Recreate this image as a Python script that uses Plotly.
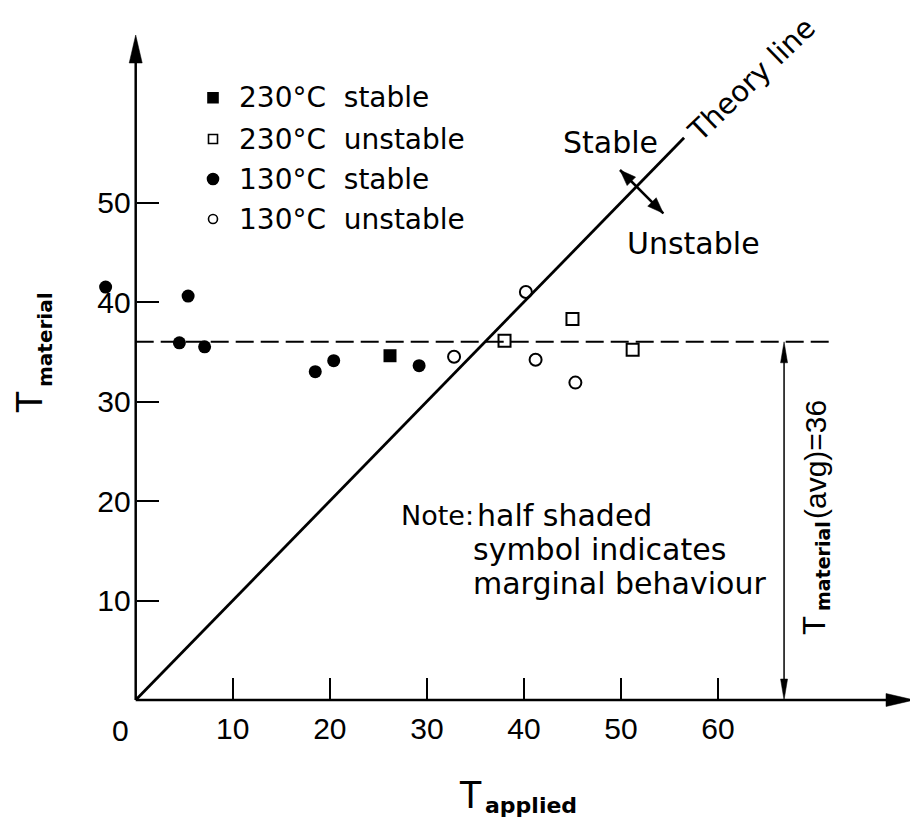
import plotly.graph_objects as go

# ---------------- data ----------------
stable_130_x = [-3.1, 4.5, 5.4, 7.1, 18.5, 20.4, 29.2]
stable_130_y = [41.5, 35.9, 40.6, 35.5, 33.0, 34.1, 33.6]
stable_230_x = [26.2]
stable_230_y = [34.6]
unstable_230_x = [38.0, 45.0, 51.2]
unstable_230_y = [36.1, 38.3, 35.2]
unstable_130_x = [32.8, 40.2, 41.2, 45.3]
unstable_130_y = [34.5, 41.0, 34.2, 31.9]
theory_x = [0, 56.5]
theory_y = [0, 56.5]
t_material_avg = 36
avg_line_x = [0, 72]
avg_marker_x = 66.8
x_tick_vals = [10, 20, 30, 40, 50, 60]
y_tick_vals = [10, 20, 30, 40, 50]
legend_labels = ["230°C\u00a0\u00a0stable", "230°C\u00a0\u00a0unstable",
                 "130°C\u00a0\u00a0stable", "130°C\u00a0\u00a0unstable"]

# ---------------- layout geometry ----------------
# The page body has an 8px margin, so the figure starts 8px in from the window corner.
WIN_W, WIN_H, BODY = 918, 826, 8
W, H = WIN_W - BODY, WIN_H - BODY
X0_PX, X_SCALE = 135.7, 9.706   # window pixel of x=0, pixels per unit
Y0_PX, Y_SCALE = 700.0, 9.95    # window pixel of y=0, pixels per unit


def dx(px):
    return (px - X0_PX) / X_SCALE


def dy(py):
    return (Y0_PX - py) / Y_SCALE


x_range = [dx(BODY), dx(WIN_W)]
y_range = [dy(WIN_H), dy(BODY)]

TXT = "DejaVu Sans"
SANS = "Liberation Sans, Arial, sans-serif"
BLACK = "black"

fig = go.Figure()

# theory line
fig.add_trace(go.Scatter(x=theory_x, y=theory_y, mode="lines",
                         line=dict(color=BLACK, width=2.8), showlegend=False,
                         hoverinfo="skip"))
# average dashed line
fig.add_trace(go.Scatter(x=avg_line_x, y=[t_material_avg] * len(avg_line_x), mode="lines",
                         line=dict(color=BLACK, width=2, dash="18px,7px"),
                         showlegend=False, hoverinfo="skip"))

# data markers
fig.add_trace(go.Scatter(x=stable_130_x, y=stable_130_y, mode="markers", cliponaxis=False,
                         marker=dict(symbol="circle", size=13, color=BLACK),
                         name="130°C stable", showlegend=False))
fig.add_trace(go.Scatter(x=stable_230_x, y=stable_230_y, mode="markers", cliponaxis=False,
                         marker=dict(symbol="square", size=13, color=BLACK),
                         name="230°C stable", showlegend=False))
fig.add_trace(go.Scatter(x=unstable_230_x, y=unstable_230_y, mode="markers", cliponaxis=False,
                         marker=dict(symbol="square-open", size=12, color=BLACK,
                                     line=dict(width=2, color=BLACK)),
                         name="230°C unstable", showlegend=False))
fig.add_trace(go.Scatter(x=unstable_130_x, y=unstable_130_y, mode="markers", cliponaxis=False,
                         marker=dict(symbol="circle-open", size=12, color=BLACK,
                                     line=dict(width=2, color=BLACK)),
                         name="130°C unstable", showlegend=False))

# hand-made legend (symbols + text)
leg_rows_px = [97.7, 139, 179, 219]
leg_symbols = ["square", "square-open", "circle", "circle-open"]
leg_sizes = [10, 9, 11, 9]
for sym, sz, ypx, lab in zip(leg_symbols, leg_sizes, leg_rows_px, legend_labels):
    fig.add_trace(go.Scatter(x=[dx(213)], y=[dy(ypx)], mode="markers", cliponaxis=False,
                             marker=dict(symbol=sym, size=sz, color=BLACK,
                                         line=dict(width=1.6, color=BLACK)),
                             showlegend=False, hoverinfo="skip"))
    fig.add_annotation(x=dx(237), y=dy(ypx), text=lab, showarrow=False,
                       xanchor="left", yanchor="middle",
                       font=dict(family=TXT, size=28, color=BLACK))

shapes = []


def head(xa, ya, path):
    return dict(type="path", xref="x", yref="y", xsizemode="pixel", ysizemode="pixel",
                xanchor=xa, yanchor=ya, path=path, fillcolor=BLACK,
                line=dict(color=BLACK, width=0.5))


# axes with arrow heads
x_tip = dx(914)
y_tip = dy(35)
shapes.append(dict(type="line", xref="x", yref="y", x0=0, y0=0, x1=x_tip - 2, y1=0,
                   line=dict(color=BLACK, width=2.5)))
shapes.append(dict(type="line", xref="x", yref="y", x0=0, y0=0, x1=0, y1=y_tip - 2,
                   line=dict(color=BLACK, width=2.5)))
shapes.append(head(x_tip, 0, "M0,0 L-28,6.5 L-28,-6.5 Z"))
shapes.append(head(0, y_tip, "M0,0 L-6.5,-28 L6.5,-28 Z"))

# vertical double arrow marking T_material(avg)
shapes.append(dict(type="line", xref="x", yref="y", x0=avg_marker_x, y0=t_material_avg - 1.5,
                   x1=avg_marker_x, y1=1.5, line=dict(color=BLACK, width=1.5)))
shapes.append(head(avg_marker_x, t_material_avg, "M0,0 L-3.5,-21 L3.5,-21 Z"))
shapes.append(head(avg_marker_x, 0, "M0,0 L-3.5,21 L3.5,21 Z"))

# stable / unstable double arrow across the theory line
p1 = (dx(620), dy(170))
p2 = (dx(663.3), dy(213.3))
shapes.append(dict(type="line", xref="x", yref="y", x0=p1[0], y0=p1[1], x1=p2[0], y1=p2[1],
                   line=dict(color=BLACK, width=2.5)))
shapes.append(head(p1[0], p1[1], "M0,0 L15.6,-7.1 L7.1,-15.6 Z"))
shapes.append(head(p2[0], p2[1], "M0,0 L-15.6,7.1 L-7.1,15.6 Z"))


# ---------------- text ----------------
def note(px, py, text, size=30, family=TXT, anchor="left", angle=0):
    fig.add_annotation(x=dx(px), y=dy(py), text=text, showarrow=False, textangle=angle,
                       xanchor=anchor, yanchor="middle",
                       font=dict(family=family, size=size, color=BLACK))


note(610, 142, "Stable", anchor="center")
note(693, 243, "Unstable", anchor="center")
note(751, 80, "Theory line", size=29, anchor="center", angle=-44)
note(399, 515, "Note:", size=27)
note(475, 515, "half shaded")
note(471, 549, "symbol indicates")
note(471, 583, "marginal behaviour")
note(120, 730, "0", size=30, family=SANS, anchor="center")

# axis titles (letter + bold subscript)
note(470, 795, "T", size=38, family=SANS, anchor="center")
note(531, 805, "<b>applied</b>", size=22, anchor="center")
note(29, 402, "T", size=36, family=SANS, anchor="center", angle=-90)
note(45, 340, "<b>material</b>", size=20, anchor="center", angle=-90)

# right-hand label T_material(avg)=36
note(814, 626, "T", size=31, family=SANS, anchor="center", angle=-90)
note(823, 566, "<b>material</b>", size=19, anchor="center", angle=-90)
note(815, 460, "(avg)=%d" % t_material_avg, size=30, family=SANS, anchor="center", angle=-90)

fig.update_layout(
    width=W, height=H, autosize=False,
    margin=dict(l=0, r=0, t=0, b=0, pad=0),
    paper_bgcolor="white", plot_bgcolor="white",
    showlegend=False,
    shapes=shapes,
    xaxis=dict(range=x_range, anchor="free",
               position=(0 - y_range[0]) / (y_range[1] - y_range[0]),
               tickvals=x_tick_vals, ticktext=[str(v) for v in x_tick_vals],
               ticks="inside", ticklen=22, tickwidth=2.2, tickcolor=BLACK,
               showgrid=False, zeroline=False, showline=False,
               ticklabelstandoff=8,
               tickfont=dict(family=SANS, size=30, color=BLACK)),
    yaxis=dict(range=y_range, anchor="free",
               position=(0 - x_range[0]) / (x_range[1] - x_range[0]),
               tickvals=y_tick_vals, ticktext=[str(v) for v in y_tick_vals],
               ticks="inside", ticklen=22, tickwidth=2.2, tickcolor=BLACK,
               showgrid=False, zeroline=False, showline=False,
               ticklabelstandoff=5,
               tickfont=dict(family=SANS, size=30, color=BLACK)),
)

fig.write_html("out.html")
